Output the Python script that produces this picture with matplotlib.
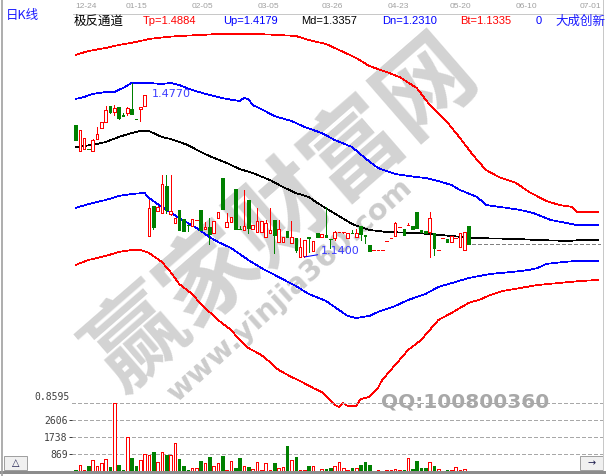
import matplotlib
matplotlib.use("Agg")
import matplotlib.pyplot as plt
from matplotlib.patches import Rectangle
from matplotlib.lines import Line2D
from matplotlib.transforms import blended_transform_factory
import numpy as np

W, H = 606, 476
RED = "#ff0000"
GREEN = "#008000"
BLUE = "#0000ff"
LABEL_BLUE = "#3c3cff"
CJK = ["Noto Sans CJK SC", "DejaVu Sans"]
PX = 0.72   # one pixel in points at 100 dpi
THIN = 0.5  # hairline for aliased strokes

# ---------------- daily bars ----------------
opens = [1.3957, 1.3459, 1.3486, 1.3496, 1.3453, 1.3680, 1.3893, 1.4009, 1.4325, 1.4208,
         1.4299, 1.4150, 1.4183, 1.4272, 1.4077, 1.4266, 1.4325, 1.1812, 1.2388, 1.2285,
         1.2258, 1.2781, 1.2233, 1.2064, 1.2310, 1.2130, 1.2029, 1.2006, 1.2120, 1.2310,
         1.1936, 1.1975, 1.1859, 1.2146, 1.2924, 1.1975, 1.2084, 1.2717, 1.1942, 1.1923,
         1.2504, 1.1936, 1.1878, 1.1878, 1.1793, 1.1859, 1.2117, 1.1696, 1.1696, 1.1909,
         1.1677, 1.1762, 1.1406, 1.1415, 1.1781, 1.1522, 1.1871, 1.1781, 1.1826, 1.1762,
         1.1762, 1.1884, 1.1875, 1.1762, 1.1865, 1.1793, 1.2000, 1.1826, 1.1632, 1.1530,
         1.1530, 1.1530, 1.1710, 1.1768, 1.1807, 1.1981, 1.1942, 1.2010, 1.2000, 1.2277,
         1.1923, 1.1904, 1.1890, 1.1859, 1.1530, 1.1758, 1.1749, 1.1696, 1.1768, 1.1600,
         1.1536, 1.2000]
highs = [1.3957, 1.3860, 1.3699, 1.3501, 1.3680, 1.3918, 1.4005, 1.4325, 1.4325, 1.4344,
         1.4299, 1.4189, 1.4311, 1.4770, 1.4077, 1.4299, 1.4538, 1.2494, 1.2388, 1.2388,
         1.2988, 1.2988, 1.2988, 1.2149, 1.2310, 1.2130, 1.2029, 1.2130, 1.2130, 1.2310,
         1.2084, 1.2149, 1.2103, 1.2262, 1.2924, 1.2258, 1.2181, 1.2717, 1.2000, 1.2698,
         1.2504, 1.2020, 1.2355, 1.2097, 1.2117, 1.2343, 1.2117, 1.2117, 1.1793, 1.1909,
         1.2103, 1.1762, 1.1762, 1.1729, 1.1781, 1.1710, 1.1871, 1.1845, 1.2363, 1.1762,
         1.1904, 1.1890, 1.1890, 1.1859, 1.1923, 1.1942, 1.2000, 1.1826, 1.1632, 1.1540,
         1.1540, 1.1540, 1.1720, 1.1778, 1.2084, 1.1991, 1.1942, 1.2059, 1.2000, 1.2277,
         1.1923, 1.1904, 1.2266, 1.1859, 1.1540, 1.1762, 1.1749, 1.1807, 1.1778, 1.1871,
         1.1890, 1.2000]
lows = [1.3666, 1.3459, 1.3486, 1.3482, 1.3453, 1.3680, 1.3893, 1.4009, 1.4183, 1.4150,
        1.4067, 1.4121, 1.4150, 1.4170, 1.4067, 1.4040, 1.4325, 1.1812, 1.1942, 1.2285,
        1.2252, 1.2258, 1.2213, 1.2064, 1.1913, 1.1909, 1.1909, 1.2006, 1.2120, 1.1923,
        1.1936, 1.1652, 1.1859, 1.2146, 1.2320, 1.1975, 1.2084, 1.1936, 1.1932, 1.1923,
        1.1865, 1.1936, 1.1878, 1.1878, 1.1793, 1.1859, 1.1472, 1.1696, 1.1696, 1.1781,
        1.1677, 1.1503, 1.1406, 1.1400, 1.1503, 1.1522, 1.1793, 1.1781, 1.1781, 1.1574,
        1.1729, 1.1884, 1.1859, 1.1762, 1.1855, 1.1793, 1.1729, 1.1671, 1.1522, 1.1530,
        1.1530, 1.1530, 1.1710, 1.1768, 1.1807, 1.1981, 1.1820, 1.2010, 1.1936, 1.1956,
        1.1884, 1.1865, 1.1406, 1.1439, 1.1530, 1.1758, 1.1696, 1.1696, 1.1768, 1.1600,
        1.1536, 1.1652]
closes = [1.3666, 1.3860, 1.3699, 1.3482, 1.3666, 1.3782, 1.4005, 1.4247, 1.4214, 1.4286,
          1.4086, 1.4121, 1.4280, 1.4170, 1.4067, 1.4299, 1.4538, 1.2355, 1.1975, 1.2363,
          1.2814, 1.2310, 1.2291, 1.2149, 1.1913, 1.1909, 1.2010, 1.2130, 1.2130, 1.1923,
          1.1981, 1.1845, 1.2103, 1.2262, 1.2320, 1.2084, 1.2181, 1.1936, 1.1932, 1.2000,
          1.1956, 1.2020, 1.2097, 1.2097, 1.2053, 1.1923, 1.1826, 1.1936, 1.1793, 1.1781,
          1.1781, 1.1536, 1.1600, 1.1729, 1.1758, 1.1710, 1.1793, 1.1845, 1.1781, 1.1749,
          1.1890, 1.1890, 1.1890, 1.1859, 1.1855, 1.1871, 1.1845, 1.1807, 1.1522, 1.1540,
          1.1540, 1.1540, 1.1720, 1.1778, 1.2064, 1.1991, 1.1820, 1.2020, 1.1936, 1.1956,
          1.1884, 1.1865, 1.2149, 1.1568, 1.1540, 1.1762, 1.1696, 1.1807, 1.1778, 1.1871,
          1.1890, 1.1652]
volumes = [70, 290, 70, 257, 565, 257, 411, 600, 205, 3476,
           308, 70, 1750, 650, 257, 550, 870, 805, 975, 460,
           960, 820, 820, 1420, 615, 257, 70, 140, 140, 515,
           395, 720, 240, 395, 770, 70, 515, 140, 670, 240,
           190, 100, 460, 70, 411, 70, 411, 140, 190, 1285,
           565, 720, 70, 70, 257, 257, 0, 100, 100, 155,
           257, 460, 155, 70, 155, 140, 308, 460, 308, 0,
           70, 0, 70, 70, 100, 70, 70, 650, 100, 515,
           155, 155, 460, 257, 100, 0, 70, 70, 205, 70,
           100, 0]

# ---------------- channel lines (bar index, value) ----------------
tp_idx = [0, 3, 7, 10, 14, 17, 21, 24, 29, 33, 38, 42, 47, 51, 54, 58, 61, 65, 68, 72,
          75, 79, 82, 86, 89, 92, 95, 98, 102, 105, 109, 112, 115, 116, 121]
tp_val = [1.5312, 1.5390, 1.5448, 1.5506, 1.5564, 1.5622, 1.5661, 1.5680, 1.5700, 1.5719,
          1.5719, 1.5719, 1.5700, 1.5680, 1.5603, 1.5525, 1.5409, 1.5254, 1.5099, 1.4983,
          1.4886, 1.4673, 1.4344, 1.4015, 1.3705, 1.3375, 1.3085, 1.2949, 1.2833, 1.2659,
          1.2485, 1.2407, 1.2368, 1.2272, 1.2272]

up_idx = [0, 2, 4, 7, 9, 11, 13, 15, 17, 20, 22, 24, 27, 31, 35, 38, 39, 40, 41, 43,
          46, 50, 53, 57, 60, 64, 67, 70, 74, 77, 81, 84, 87, 89, 93, 95, 100, 103, 106,
          110, 116, 121]
up_val = [1.4460, 1.4499, 1.4557, 1.4596, 1.4596, 1.4673, 1.4770, 1.4770, 1.4770, 1.4751,
          1.4770, 1.4731, 1.4634, 1.4538, 1.4460, 1.4421, 1.4480, 1.4460, 1.4344, 1.4266,
          1.4131, 1.4034, 1.3918, 1.3801, 1.3666, 1.3530, 1.3317, 1.3124, 1.3007, 1.2969,
          1.2930, 1.2872, 1.2794, 1.2698, 1.2562, 1.2407, 1.2349, 1.2310, 1.2252, 1.2117,
          1.2020, 1.2020]

md_idx = [0, 2, 5, 7, 10, 13, 15, 17, 20, 22, 26, 29, 31, 35, 38, 41, 45, 48, 51, 54,
          56, 59, 61, 64, 68, 72, 79, 87, 92, 102, 107, 114, 117, 121]
md_val = [1.3530, 1.3550, 1.3589, 1.3627, 1.3724, 1.3801, 1.3840, 1.3840, 1.3724, 1.3685,
          1.3569, 1.3434, 1.3356, 1.3220, 1.3104, 1.3027, 1.2891, 1.2756, 1.2639, 1.2562,
          1.2446, 1.2291, 1.2194, 1.2039, 1.1923, 1.1884, 1.1865, 1.1807, 1.1768, 1.1749,
          1.1729, 1.1710, 1.1729, 1.1729]

dn_idx = [0, 3, 7, 10, 13, 16, 17, 20, 24, 28, 31, 33, 36, 40, 43, 47, 51, 54, 58, 61,
          63, 65, 68, 70, 74, 77, 81, 84, 88, 91, 96, 101, 105, 107, 109, 113, 116, 121]
dn_val = [1.2349, 1.2426, 1.2504, 1.2581, 1.2620, 1.2640, 1.2543, 1.2368, 1.2155, 1.1962,
          1.1787, 1.1690, 1.1574, 1.1342, 1.1187, 1.1013, 1.0838, 1.0683, 1.0548, 1.0373,
          1.0257, 1.0219, 1.0257, 1.0335, 1.0451, 1.0567, 1.0683, 1.0819, 1.0916, 1.0993,
          1.1071, 1.1110, 1.1148, 1.1187, 1.1265, 1.1303, 1.1323, 1.1323]

bt_idx = [0, 3, 7, 10, 13, 15, 17, 20, 22, 24, 27, 29, 31, 33, 36, 38, 40, 43, 45, 47,
          50, 52, 55, 57, 60, 61, 62, 63, 65, 66, 68, 70, 71, 73, 75, 77, 80, 82, 84, 87,
          89, 91, 94, 96, 99, 103, 107, 112, 117, 121]
bt_val = [1.1245, 1.1342, 1.1420, 1.1497, 1.1536, 1.1536, 1.1478, 1.1303, 1.1110, 1.0877,
          1.0683, 1.0490, 1.0335, 1.0180, 0.9986, 0.9792, 0.9638, 0.9502, 0.9366, 0.9212,
          0.9076, 0.8998, 0.8863, 0.8785, 0.8534, 0.8495, 0.8572, 0.8514, 0.8514, 0.8650,
          0.8688, 0.8863, 0.9018, 0.9212, 0.9405, 0.9599, 0.9792, 0.9986, 1.0180, 1.0315,
          1.0412, 1.0509, 1.0587, 1.0664, 1.0742, 1.0800, 1.0858, 1.0897, 1.0935, 1.0955]

# ---------------- axis / header texts ----------------
date_labels = ["12-24", "01-15", "02-05", "03-05", "03-26", "04-23", "05-20", "06-10", "07-01"]
date_pos = [2.4, 14.2, 29.3, 44.6, 59.4, 74.7, 89.2, 104.3, 119.1]
vol_grid = [869, 1738, 2606, 3476]
vol_tick_labels = ["869", "1738", "2606"]
price_floor_label = "0.8595"
header_items = [("Tp=1.4884", RED, 143), ("Up=1.4179", BLUE, 223), ("Md=1.3357", "black", 301),
                ("Dn=1.2310", BLUE, 382), ("Bt=1.1335", RED, 460), ("0", BLUE, 536)]

# ---------------- figure ----------------
fig = plt.figure(figsize=(W / 100, H / 100), dpi=100)
fig.patch.set_facecolor("white")


def fx(px):
    return px / W


def fy(py):
    return 1 - py / H


XMIN, XMAX = -0.81, 121.88
ax = fig.add_axes([fx(72), fy(471), (602 - 72) / W, (471 - 33) / H])
ax.set_xlim(XMIN, XMAX)
ax.set_ylim(0.7255, 1.5738)
ax.axis("off")
ax.set_zorder(1)

vax = fig.add_axes([fx(72), fy(471), (602 - 72) / W, (471 - 399) / H])
vax.set_xlim(XMIN, XMAX)
vax.set_ylim(0, 3702)
vax.set_facecolor("none")
vax.set_zorder(2)
for s in vax.spines.values():
    s.set_visible(False)
vax.set_xticks([])
vax.set_yticks(vol_grid[:3])
vax.set_yticklabels(vol_tick_labels, fontfamily="DejaVu Sans Mono", fontsize=7, color="#404040")
vax.tick_params(axis="y", length=2, width=PX, color="#404040", pad=1)

# watermark
ax.text(fx(283), fy(214), "赢家财富网", transform=fig.transFigure, rotation=41,
        ha="center", va="center", fontsize=69, fontweight="bold", family=CJK,
        color="#d3d3d3", zorder=0.5, clip_on=False)
ax.text(fx(290), fy(290), "www.yinjia360.com", transform=fig.transFigure, rotation=42,
        ha="center", va="center", fontsize=21, fontweight="bold", family="DejaVu Sans",
        color="#cccccc", zorder=0.5, clip_on=False)
ax.text(fx(381), fy(402), "QQ:100800360", transform=fig.transFigure,
        ha="left", va="center", fontsize=14.5, fontweight="bold", family="DejaVu Sans",
        color="#a8a8a8", zorder=0.6, clip_on=False)

# channel lines
for idx, val, col in [(tp_idx, tp_val, RED), (up_idx, up_val, BLUE), (md_idx, md_val, "black"),
                      (dn_idx, dn_val, BLUE), (bt_idx, bt_val, RED)]:
    ax.plot(idx, val, color=col, lw=THIN, antialiased=False, zorder=2, clip_on=False)

# candlesticks
bw = 0.6
n = len(opens)
for i in range(n):
    o, h, l, c = opens[i], highs[i], lows[i], closes[i]
    up = c >= o
    col = RED if up else GREEN
    top, bot = max(o, c), min(o, c)
    if h > top:
        ax.vlines(i, top, h, colors=col, lw=THIN, antialiased=False, zorder=3)
    if l < bot:
        ax.vlines(i, l, bot, colors=col, lw=THIN, antialiased=False, zorder=3)
    if top - bot < 0.0015:
        ax.hlines((o + c) / 2, i - bw / 2, i + bw / 2, colors=col, lw=THIN,
                  antialiased=False, zorder=3)
    else:
        ax.add_patch(Rectangle((i - bw / 2, bot), bw, top - bot,
                               facecolor="white" if up else col, edgecolor=col,
                               lw=THIN, antialiased=False, zorder=3))

# last close reference line
ax.hlines(closes[-1], n - 0.3, XMAX - 0.5, colors="#808080", lw=THIN,
          linestyles=(0, (5, 4)), antialiased=False, zorder=2)

# high / low markers
hi = int(np.argmax(highs))
lo = int(np.argmin(lows))
ax.annotate(f"{highs[hi]:.4f}", xy=(hi, highs[hi]), xytext=(20, -11),
            textcoords="offset pixels", ha="left", va="center", fontsize=8,
            color=LABEL_BLUE, zorder=4)
ax.annotate(f"{lows[lo]:.4f}", xy=(lo, lows[lo]), xytext=(16, 6),
            textcoords="offset pixels", ha="left", va="center", fontsize=8,
            color=LABEL_BLUE, zorder=4,
            arrowprops=dict(arrowstyle="-", color=BLUE, lw=PX, shrinkA=0, shrinkB=0))

# volume pane
for v in vol_grid:
    vax.axhline(v, color="#a8a8a8", lw=THIN, ls=(0, (5, 4)), antialiased=False,
                zorder=1, clip_on=False)
vcol = [RED if closes[i] >= opens[i] else GREEN for i in range(n)]
vface = ["white" if closes[i] >= opens[i] else GREEN for i in range(n)]
vax.bar(range(n), volumes, width=0.6, color=vface, edgecolor=vcol, lw=THIN,
        antialiased=False, zorder=2)
fig.text(fx(70), fy(397), price_floor_label, ha="right", va="center",
         family="DejaVu Sans Mono", fontsize=7, color="#404040")

# date row and header
date_tr = blended_transform_factory(ax.transData, fig.transFigure)
for lab, pos in zip(date_labels, date_pos):
    ax.text(pos, fy(7), lab, transform=date_tr, ha="center", va="center",
            family="Liberation Sans", fontsize=6, color="#a0a0a0", clip_on=False)
fig.add_artist(Line2D([fx(73), fx(603)], [fy(13.5), fy(13.5)], color="#c8c8c8", lw=PX))

fig.text(fx(6), fy(15), "日K线", ha="left", va="center", family=CJK, fontsize=9, color="#1a1aff")
fig.text(fx(74), fy(21), "极反通道", ha="left", va="center", family=CJK, fontsize=9, color="black")
for txt, col, xp in header_items:
    fig.text(fx(xp), fy(21), txt, ha="left", va="center", family="Liberation Sans",
             fontsize=8, color=col)
fig.text(fx(605), fy(21), "大成创新", ha="right", va="center", family=CJK, fontsize=9, color="#1a1aff")

# frame pieces
fig.add_artist(Line2D([fx(2.5), fx(2.5)], [0, 1], color="#a0a0a0", lw=1.2))
fig.add_artist(Line2D([fx(602.5), fx(602.5)], [fy(470), 1], color="#c8c8c8", lw=PX))
fig.add_artist(Rectangle((0, fy(473.5)), 1, (473.5 - 471) / H, transform=fig.transFigure,
                         facecolor="#8c8c8c", edgecolor="none"))
fig.add_artist(Line2D([0, 1], [fy(475.5), fy(475.5)], color="#c0c0c0", lw=PX))

for bx, glyph in [(4, "△"), (580, "→")]:
    fig.add_artist(Rectangle((fx(bx), fy(470)), 23 / W, 14 / H, transform=fig.transFigure,
                             facecolor="#f0f0f0", edgecolor="#a0a0a0", lw=PX))
    fig.text(fx(bx + 11.5), fy(463), glyph, ha="center", va="center",
             family="DejaVu Sans", fontsize=7, color="#202050")

fig.savefig("out.png", dpi=100, facecolor="white")
